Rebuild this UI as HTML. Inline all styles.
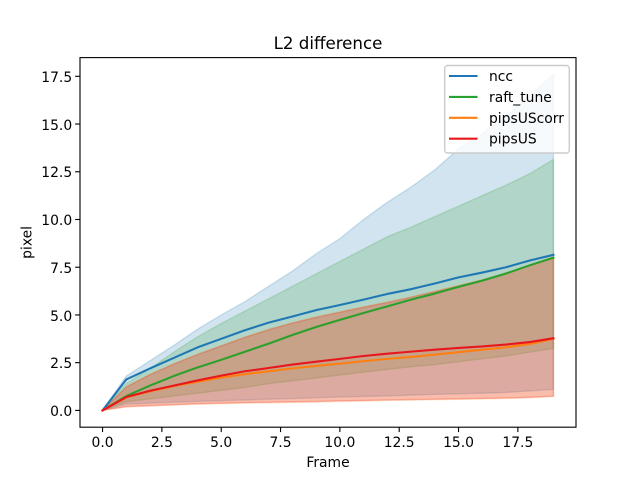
<!DOCTYPE html>
<html>
<head>
<meta charset="utf-8">
<title>L2 difference</title>
<style>
html,body{margin:0;padding:0;background:#fff;width:640px;height:480px;overflow:hidden}
svg{display:block}
text{font-family:"DejaVu Sans",sans-serif;fill:#000}
</style>
</head>
<body>
<svg id="chart" xmlns="http://www.w3.org/2000/svg" width="640" height="480" viewBox="0 0 640 480">
<rect x="0" y="0" width="640" height="480" fill="#fff"/>
<g id="plot"></g>
<g id="axes"></g>
<rect x="80" y="57.6" width="496" height="369.6" fill="none" stroke="#000" stroke-width="1.11"/>
<text x="328" y="49" font-size="16.67" text-anchor="middle">L2 difference</text>
<text x="328" y="467" font-size="13.89" text-anchor="middle">Frame</text>
<text transform="translate(31.5,242.4) rotate(-90)" font-size="13.89" text-anchor="middle">pixel</text>
<g id="legend"></g>
</svg>
<script>
const frames = [0,1,2,3,4,5,6,7,8,9,10,11,12,13,14,15,16,17,18,19];
const xTickValues = [0,2.5,5,7.5,10,12.5,15,17.5];
const xTickLabels = ['0.0','2.5','5.0','7.5','10.0','12.5','15.0','17.5'];
const yTickValues = [0,2.5,5,7.5,10,12.5,15,17.5];
const yTickLabels = ['0.0','2.5','5.0','7.5','10.0','12.5','15.0','17.5'];

const nccMean = [0,1.62,2.2,2.75,3.3,3.75,4.2,4.6,4.92,5.25,5.52,5.8,6.1,6.35,6.65,6.97,7.22,7.5,7.85,8.15];
const nccUpper = [0,1.8,2.6,3.4,4.25,5.0,5.7,6.5,7.3,8.2,9.0,10.0,10.9,11.7,12.6,13.7,14.5,15.4,16.5,17.6];
const nccLower = [0,0.33,0.38,0.43,0.47,0.51,0.55,0.59,0.62,0.66,0.7,0.73,0.76,0.8,0.84,0.87,0.9,0.94,1.02,1.1];

const raftMean = [0,0.75,1.3,1.8,2.25,2.65,3.07,3.5,3.95,4.37,4.74,5.1,5.45,5.8,6.12,6.47,6.8,7.17,7.6,8.0];
const raftUpper = [0,1.4,2.2,3.05,3.85,4.55,5.2,5.85,6.5,7.15,7.8,8.45,9.1,9.6,10.15,10.7,11.25,11.8,12.4,13.15];
const raftLower = [0,0.45,0.6,0.75,0.9,1.05,1.2,1.4,1.55,1.7,1.85,2.0,2.15,2.28,2.4,2.55,2.7,2.85,3.05,3.25];

const corrMean = [0,0.68,1.0,1.27,1.5,1.72,1.9,2.05,2.2,2.33,2.45,2.58,2.7,2.8,2.92,3.05,3.18,3.3,3.48,3.75];
const corrUpper = [0,1.25,1.9,2.45,2.95,3.4,3.85,4.25,4.6,4.9,5.17,5.43,5.68,5.95,6.25,6.55,6.85,7.2,7.62,8.05];
const corrLower = [0,0.18,0.23,0.28,0.32,0.35,0.38,0.4,0.42,0.44,0.47,0.49,0.52,0.54,0.56,0.58,0.6,0.62,0.66,0.72];

const usMean = [0,0.7,1.03,1.3,1.57,1.82,2.05,2.22,2.4,2.55,2.7,2.85,2.97,3.08,3.18,3.27,3.35,3.45,3.58,3.78];
const usUpper = [0,1.22,1.87,2.42,2.92,3.37,3.82,4.22,4.57,4.87,5.14,5.4,5.65,5.92,6.22,6.52,6.82,7.17,7.6,8.0];
const usLower = [0,0.2,0.25,0.3,0.35,0.38,0.41,0.43,0.45,0.47,0.5,0.52,0.55,0.57,0.59,0.61,0.63,0.65,0.69,0.75];

const seriesNames = ['ncc','raft_tune','pipsUScorr','pipsUS'];
const seriesColors = ['#1f77b4','#2ca02c','#ff7f0e','#e8171c'];
const seriesMeans = [nccMean,raftMean,corrMean,usMean];
const seriesUppers = [nccUpper,raftUpper,corrUpper,usUpper];
const seriesLowers = [nccLower,raftLower,corrLower,usLower];
const legendOrder = [0,1,2,3];

const NS = 'http://www.w3.org/2000/svg';
const axLeft = 80, axRight = 576, axTop = 57.6, axBottom = 427.2;
const allX = frames;
const xMin = Math.min.apply(null, allX), xMax = Math.max.apply(null, allX);
const xPad = (xMax - xMin) * 0.05;
const allY = [].concat(nccUpper, raftUpper, corrUpper, usUpper, nccLower, raftLower, corrLower, usLower, nccMean, raftMean, corrMean, usMean);
const yMin = Math.min.apply(null, allY), yMax = Math.max.apply(null, allY);
const yPad = (yMax - yMin) * 0.05;
function xScale(v){ return axLeft + (v - (xMin - xPad)) / ((xMax + xPad) - (xMin - xPad)) * (axRight - axLeft); }
function yScale(v){ return axBottom - (v - (yMin - yPad)) / ((yMax + yPad) - (yMin - yPad)) * (axBottom - axTop); }
function make(tag, attrs){
  const el = document.createElementNS(NS, tag);
  for (const k in attrs) el.setAttribute(k, attrs[k]);
  return el;
}

const plot = document.getElementById('plot');
seriesNames.forEach(function(name, i){
  const up = frames.map(function(f, j){ return xScale(f).toFixed(2) + ',' + yScale(seriesUppers[i][j]).toFixed(2); });
  const lo = frames.map(function(f, j){ return xScale(f).toFixed(2) + ',' + yScale(seriesLowers[i][j]).toFixed(2); }).reverse();
  const band = make('polygon', {points: up.concat(lo).join(' '), fill: seriesColors[i], 'fill-opacity': 0.2, stroke: seriesColors[i], 'stroke-opacity': 0.2, 'stroke-width': 1.39});
  
  
  plot.appendChild(band);
});
seriesNames.forEach(function(name, i){
  const pts = frames.map(function(f, j){ return xScale(f).toFixed(2) + ',' + yScale(seriesMeans[i][j]).toFixed(2); }).join(' ');
  const line = make('polyline', {points: pts, fill: 'none', stroke: seriesColors[i], 'stroke-width': 2.08, 'stroke-linejoin': 'round', 'stroke-linecap': 'square'});
  
  
  plot.appendChild(line);
});

const axes = document.getElementById('axes');
xTickValues.forEach(function(v, i){
  const x = xScale(v);
  const t = make('line', {x1: x, x2: x, y1: axBottom, y2: axBottom + 4.86, stroke: '#000', 'stroke-width': 1.11});
  
  
  axes.appendChild(t);
  const l = make('text', {x: x, y: 447, 'font-size': 13.89, 'text-anchor': 'middle'});
  
  
  l.textContent = xTickLabels[i];
  axes.appendChild(l);
});
yTickValues.forEach(function(v, i){
  const y = yScale(v);
  const t = make('line', {x1: axLeft - 4.86, x2: axLeft, y1: y, y2: y, stroke: '#000', 'stroke-width': 1.11});
  
  
  axes.appendChild(t);
  const l = make('text', {x: 72.2, y: Math.round(y + 5.6), 'font-size': 13.89, 'text-anchor': 'end'});
  
  
  l.textContent = yTickLabels[i];
  axes.appendChild(l);
});

const legend = document.getElementById('legend');
const box = make('rect', {x: 444.7, y: 65.5, width: 124.6, height: 87.5, rx: 2.8, ry: 2.8, fill: '#fff', 'fill-opacity': 0.8, stroke: '#ccc', 'stroke-width': 1.39});


legend.appendChild(box);
legendOrder.forEach(function(s, row){
  const y = 76 + row * 20.9;
  const ln = make('line', {x1: 449, x2: 477.5, y1: y, y2: y, stroke: seriesColors[s], 'stroke-width': 2.08});
  
  
  legend.appendChild(ln);
  const tx = make('text', {x: 489, y: y + 5, 'font-size': 13.89});
  
  
  tx.textContent = seriesNames[s];
  legend.appendChild(tx);
});
</script>
</body>
</html>
